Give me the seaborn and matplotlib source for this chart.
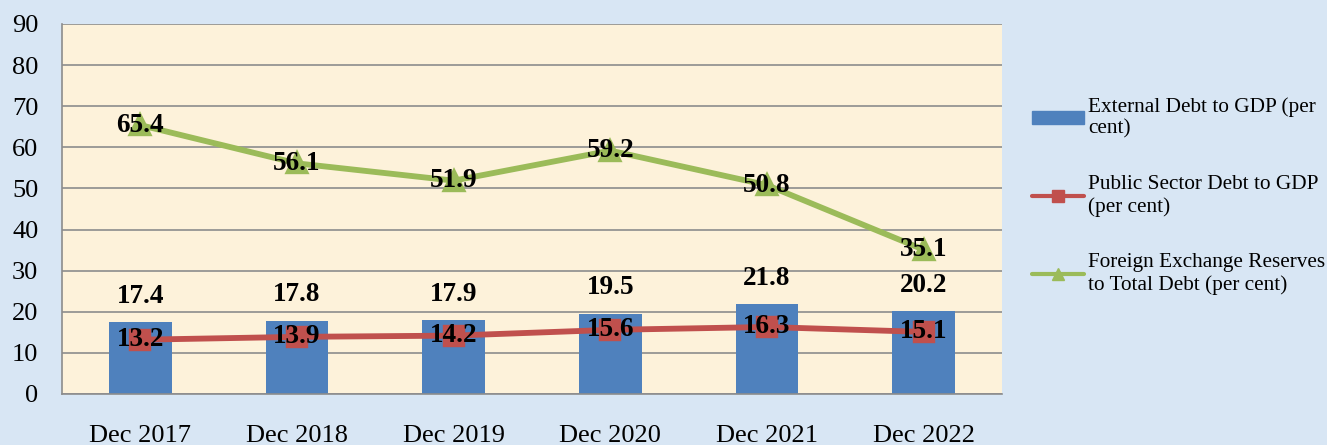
import matplotlib
matplotlib.use("Agg")
import matplotlib.pyplot as plt
import seaborn as sns
import pandas as pd
from matplotlib.patches import Patch
from matplotlib.lines import Line2D

categories = ["Dec 2017", "Dec 2018", "Dec 2019", "Dec 2020", "Dec 2021", "Dec 2022"]
external_debt = [17.4, 17.8, 17.9, 19.5, 21.8, 20.2]
public_debt = [13.2, 13.9, 14.2, 15.6, 16.3, 15.1]
fx_reserves = [65.4, 56.1, 51.9, 59.2, 50.8, 35.1]
legend_labels = ["External Debt to GDP (per\ncent)",
                 "Public Sector Debt to GDP\n(per cent)",
                 "Foreign Exchange Reserves\nto Total Debt (per cent)"]

BLUE = "#4f81bd"
RED = "#c0504d"
GREEN = "#9bbb59"

sns.set_style("white")
plt.rcParams["font.family"] = ["Liberation Serif", "DejaVu Serif"]
plt.rcParams["text.color"] = "black"
plt.rcParams["xtick.labelcolor"] = "black"
plt.rcParams["ytick.labelcolor"] = "black"

df = pd.DataFrame({"cat": categories, "ext": external_debt,
                   "pub": public_debt, "fx": fx_reserves})

fig = plt.figure(figsize=(13.27, 4.45), dpi=100)
fig.patch.set_facecolor("#d8e6f4")
ax = fig.add_axes([62 / 1327, 51 / 445, 940 / 1327, 370 / 445])
ax.set_facecolor("#fdf2da")

sns.barplot(data=df, x="cat", y="ext", color=BLUE, width=0.4, saturation=1,
            linewidth=0, ax=ax, zorder=2)
sns.pointplot(data=df, x="cat", y="pub", color=RED, marker="s", markersize=13,
              linewidth=4.2, ax=ax, zorder=3)
sns.pointplot(data=df, x="cat", y="fx", color=GREEN, marker="^", markersize=13,
              linewidth=4.2, ax=ax, zorder=3)

lab = dict(ha="center", va="center", fontsize=19.5, fontweight="bold", color="black", zorder=5)
for i in range(len(categories)):
    ax.text(i, external_debt[i] + 6.3, f"{external_debt[i]:.1f}", **lab)
    ax.text(i, public_debt[i], f"{public_debt[i]:.1f}", **lab)
    ax.text(i, fx_reserves[i], f"{fx_reserves[i]:.1f}", **lab)

ax.set_ylim(0, 90)
ax.set_xlim(-0.5, 5.5)
ax.set_yticks(range(0, 91, 10))
ax.yaxis.grid(True, color="#8c8c8c", linewidth=1.2, zorder=0)
ax.set_axisbelow(True)
ax.set_xlabel("")
ax.set_ylabel("")
for s in ["top", "right"]:
    ax.spines[s].set_visible(False)
for s in ["left", "bottom"]:
    ax.spines[s].set_color("#8c8c8c")
    ax.spines[s].set_linewidth(1.2)
ax.tick_params(axis="y", length=6, color="#8c8c8c", labelcolor="black", labelsize=19, pad=11)
ax.set_xticks(range(len(categories)))
ax.set_xticklabels(categories)
ax.set_xticks([i - 0.5 for i in range(len(categories) + 1)], minor=True)
ax.tick_params(axis="x", which="major", length=0, labelcolor="black", labelsize=19, pad=22)
ax.tick_params(axis="x", which="minor", length=6, color="#8c8c8c")

handles = [Patch(facecolor=BLUE, edgecolor=BLUE),
           Line2D([], [], color=RED, lw=3, marker="s", markersize=9),
           Line2D([], [], color=GREEN, lw=3, marker="^", markersize=9)]
fig.legend(handles, legend_labels, loc="center left", bbox_to_anchor=(1013 / 1327, 0.56),
           frameon=False, fontsize=15.3, labelspacing=1.7, handlelength=2.45,
           handleheight=0.55, handletextpad=0.2, labelcolor="black")

fig.savefig("out.png", dpi=100, facecolor=fig.get_facecolor())
